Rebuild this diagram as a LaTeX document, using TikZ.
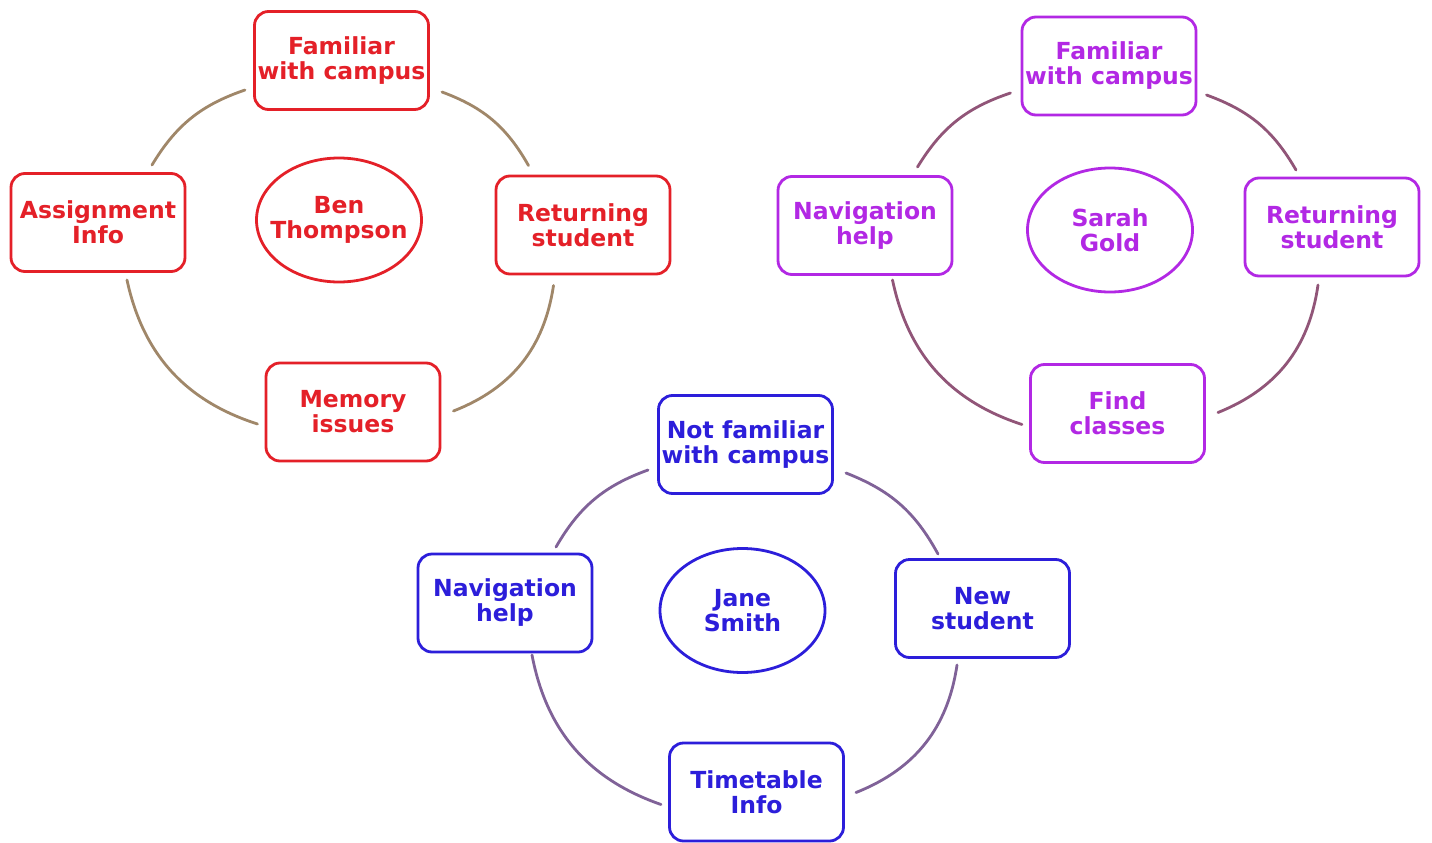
\documentclass[tikz,border=0pt]{standalone}
\usepackage{fontspec}
\setmainfont{DejaVu Sans}
\usetikzlibrary{shapes.geometric}

\definecolor{benred}{RGB}{228,32,40}
\definecolor{benarc}{RGB}{160,135,105}
\definecolor{sarahpurple}{RGB}{178,40,228}
\definecolor{saraharc}{RGB}{145,85,120}
\definecolor{janeblue}{RGB}{44,30,218}
\definecolor{janearc}{RGB}{128,98,152}

\tikzset{
  box/.style={draw, rounded corners=14pt, line width=2.8pt,
    minimum width=174pt, minimum height=98pt, inner sep=0pt,
    align=center, font=\bfseries\fontsize{23.5}{25}\selectfont},
  person/.style={ellipse, draw, line width=2.8pt,
    minimum width=165pt, minimum height=124pt, inner sep=-30pt,
    align=center, font=\bfseries\fontsize{23.5}{25}\selectfont},
  link/.style={line width=2.8pt, line cap=round},
  upper/.style={bend left=20},
  lower/.style={bend left=30},
  ben/.style={color=benred},
  sarah/.style={color=sarahpurple},
  jane/.style={color=janeblue},
}

\begin{document}
\begin{tikzpicture}[x=1pt,y=1pt]
\useasboundingbox[fill=white] (0,0) rectangle (1432,-843);

% Ben Thompson
\node[box,ben] (rT) at (341.5,-60.5) {Familiar\\with campus};
\node[box,ben] (rL) at (98,-222.5) {Assignment\\Info};
\node[box,ben] (rR) at (583,-225) {Returning\\student};
\node[box,ben] (rB) at (353,-412) {Memory\\issues};
\node[person,ben] (rC) at (339,-220) {Ben\\Thompson};
\begin{scope}[link,draw=benarc]
  \draw ([shift={(54,57.5)}]rL.center) to[upper] ([shift={(-96.5,-29.5)}]rT.center);
  \draw ([shift={(100.5,-31.5)}]rT.center) to[upper] ([shift={(-54.5,59.5)}]rR.center);
  \draw ([shift={(-29.5,-60.5)}]rR.center) to[lower] ([shift={(100.5,1)}]rB.center);
  \draw ([shift={(-95.5,-12)}]rB.center) to[lower] ([shift={(29,-57.5)}]rL.center);
\end{scope}

% Sarah Gold
\node[box,sarah] (pT) at (1109,-66) {Familiar\\with campus};
\node[box,sarah] (pL) at (865,-225.5) {Navigation\\help};
\node[box,sarah] (pR) at (1332,-227) {Returning\\student};
\node[box,sarah] (pB) at (1117.5,-413.5) {Find\\classes};
\node[person,sarah] (pC) at (1110,-230) {Sarah\\Gold};
\begin{scope}[link,draw=saraharc]
  \draw ([shift={(52.5,58.5)}]pL.center) to[upper] ([shift={(-98.5,-27)}]pT.center);
  \draw ([shift={(97.5,-29)}]pT.center) to[upper] ([shift={(-36,57)}]pR.center);
  \draw ([shift={(-14,-58)}]pR.center) to[lower] ([shift={(100.5,1)}]pB.center);
  \draw ([shift={(-95.5,-11)}]pB.center) to[lower] ([shift={(27.5,-54.5)}]pL.center);
\end{scope}

% Jane Smith
\node[box,jane] (bT) at (745.5,-444.5) {Not familiar\\with campus};
\node[box,jane] (bL) at (505,-603) {Navigation\\help};
\node[box,jane] (bR) at (982.5,-608.5) {New\\student};
\node[box,jane] (bB) at (756.5,-792) {Timetable\\Info};
\node[person,jane] (bC) at (742.5,-610.5) {Jane\\Smith};
\begin{scope}[link,draw=janearc]
  \draw ([shift={(51,56)}]bL.center) to[upper] ([shift={(-97.5,-25.5)}]bT.center);
  \draw ([shift={(100.5,-28.5)}]bT.center) to[upper] ([shift={(-44.5,54.5)}]bR.center);
  \draw ([shift={(-25.5,-56.5)}]bR.center) to[lower] ([shift={(99.5,-0.5)}]bB.center);
  \draw ([shift={(-95.5,-12.5)}]bB.center) to[lower] ([shift={(27,-52)}]bL.center);
\end{scope}
\end{tikzpicture}
\end{document}
